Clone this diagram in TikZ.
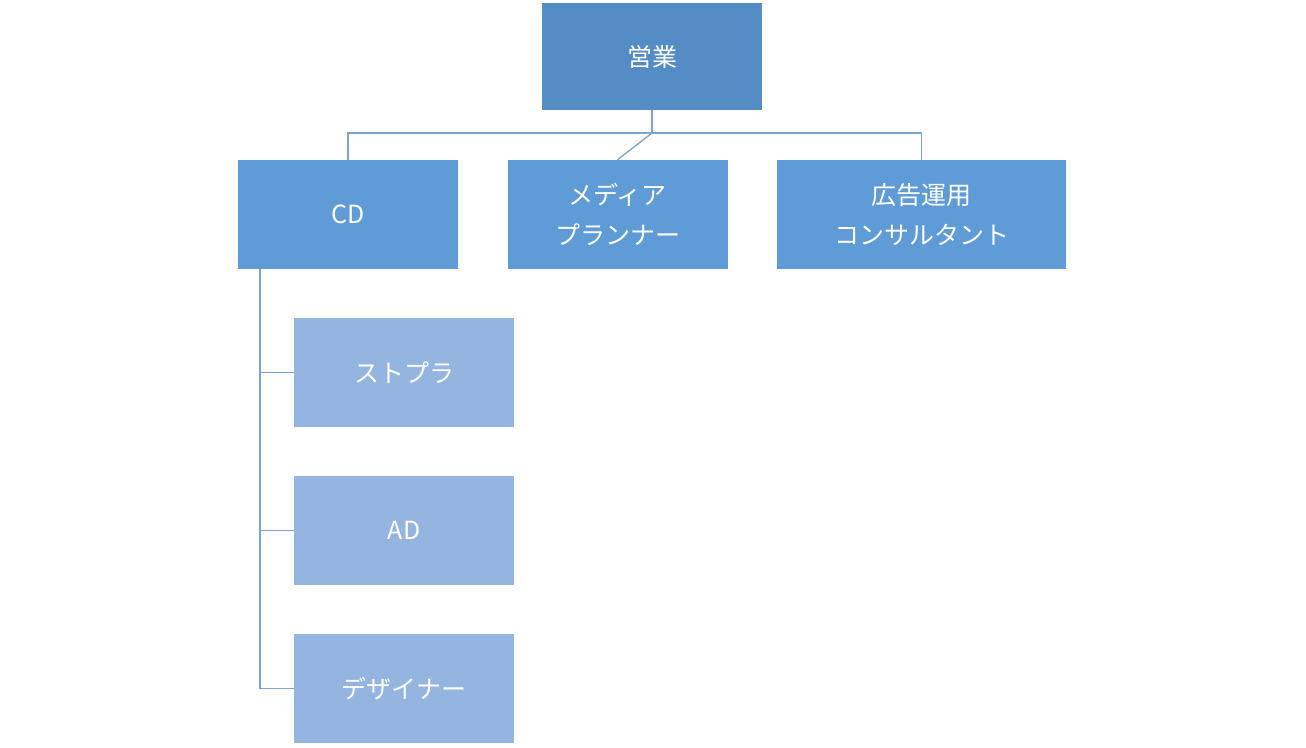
\documentclass[tikz,border=0pt]{standalone}
\usepackage{fontspec}
\setmainfont{Noto Sans CJK JP}
\begin{document}
\begin{tikzpicture}[x=1pt,y=-1pt,
  box/.style={draw=none,minimum width=#1,minimum height=109,inner sep=0,text=white,align=center,font=\fontsize{25}{40}\selectfont},
  box/.default=220,
  top/.style={box,fill=c0},
  mid/.style={box=#1,fill=c1},
  mid/.default=220,
  low/.style={box,fill=c2},
  ln/.style={draw=lc,line width=1.3pt}]
\definecolor{c0}{HTML}{548DC5}
\definecolor{c1}{HTML}{5F9BD6}
\definecolor{c2}{HTML}{93B5E0}
\definecolor{lc}{HTML}{7AA3CD}
\useasboundingbox (0,0) rectangle (1306,747);
\node[top,minimum height=107] (s) at (652,56.5) {営業};
\node[mid] (cd) at (348,214.5) {CD};
\node[mid] (md) at (617.5,214.5) {メディア\\プランナー};
\node[mid=289] (ad2) at (921.5,214.5) {広告運用\\コンサルタント};
\node[low] (st) at (404,372.5) {ストプラ};
\node[low] (ad) at (404,530.5) {AD};
\node[low] (de) at (404,688.5) {デザイナー};
\coordinate (j) at (652,133);
\coordinate (cv) at (260,269);
\draw[ln] (s.south) -- (j);
\draw[ln] (cd.north) |- (j) -| (ad2.north);
\draw[ln] (j) -- (md.north);
\draw[ln] (cv) |- (de.west);
\draw[ln] (cv |- st.west) -- (st.west);
\draw[ln] (cv |- ad.west) -- (ad.west);
\end{tikzpicture}
\end{document}
